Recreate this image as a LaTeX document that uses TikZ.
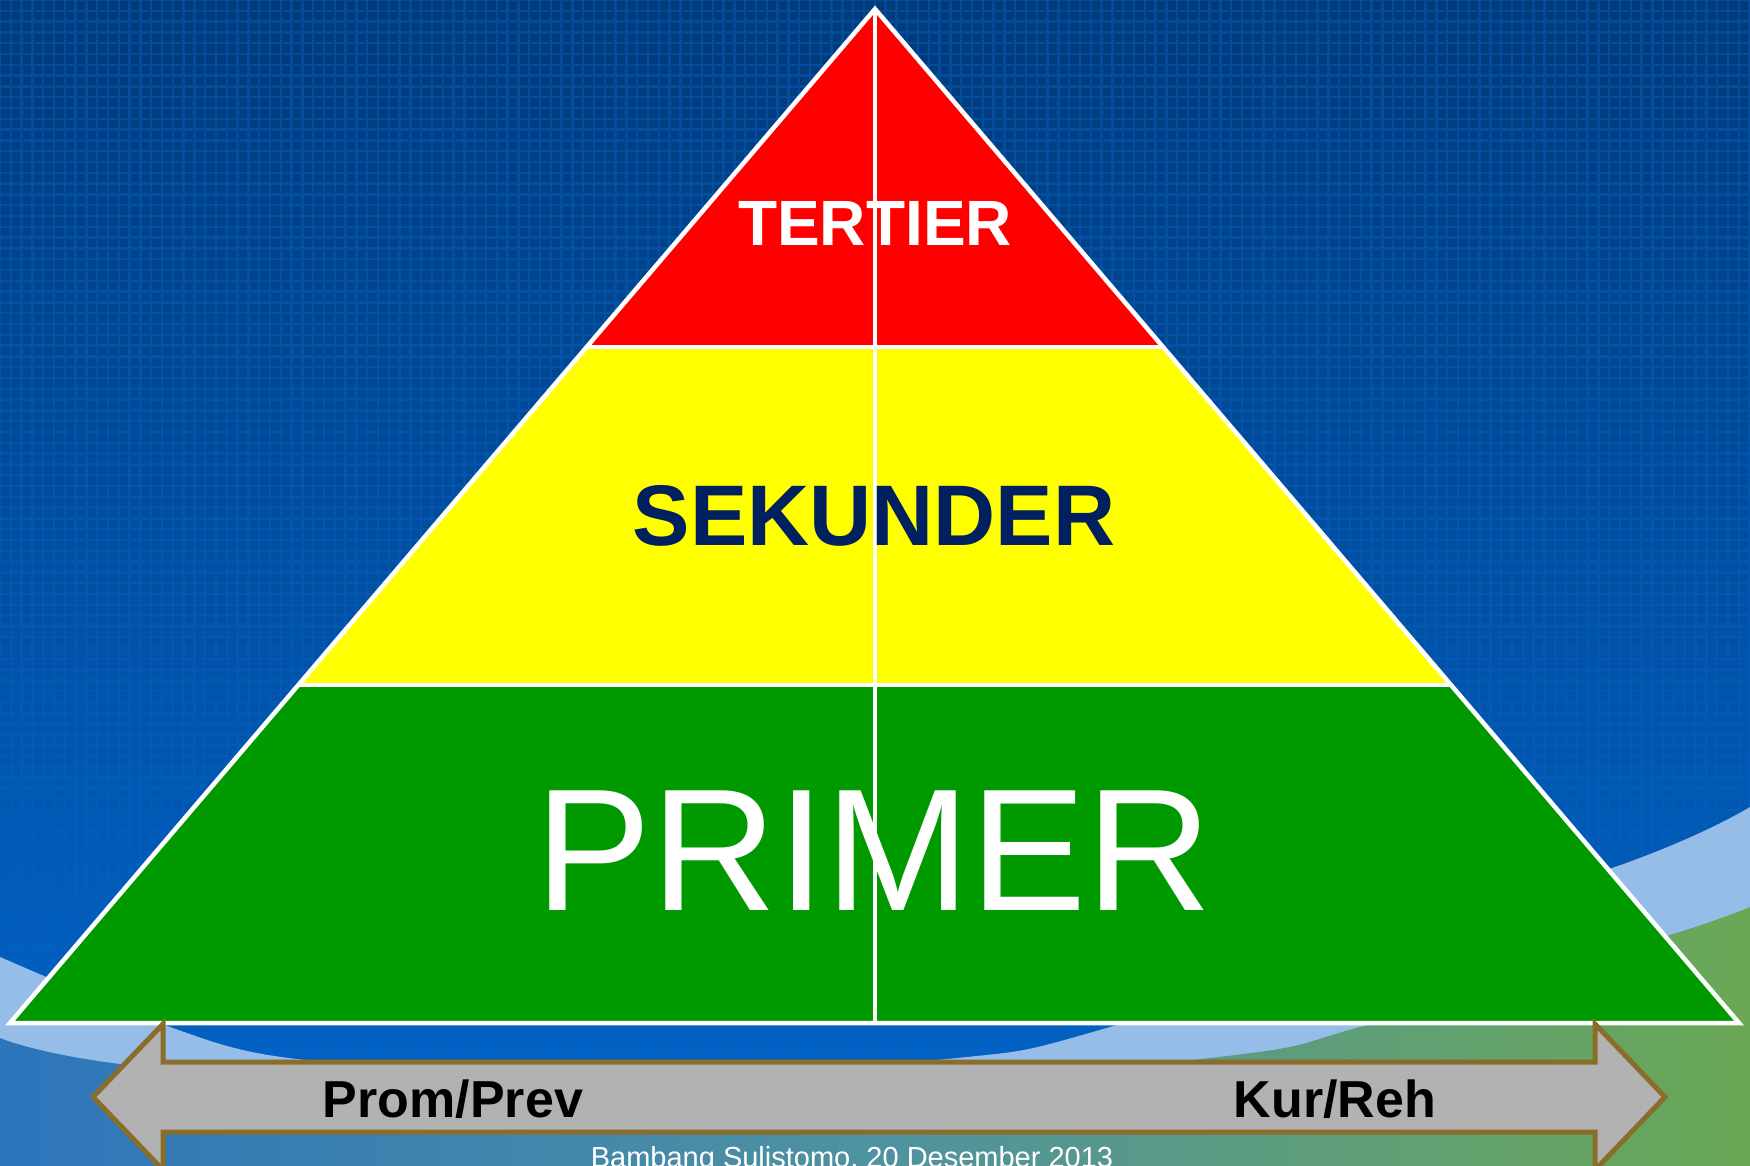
\documentclass[tikz,border=0pt]{standalone}
\usepackage{fontspec}
\setmainfont{Liberation Sans}
\usetikzlibrary{calc}

\definecolor{skytop}{HTML}{003A79}
\definecolor{skybottom}{HTML}{0066CC}
\definecolor{gridblue}{HTML}{0A5EC0}
\definecolor{swoosh}{HTML}{95BDE8}
\definecolor{groundL}{HTML}{1B66CA}
\definecolor{groundM}{HTML}{4F92A0}
\definecolor{groundR}{HTML}{70AD47}
\definecolor{tertier}{HTML}{FF0000}
\definecolor{sekunder}{HTML}{FFFF00}
\definecolor{primer}{HTML}{009900}
\definecolor{navy}{HTML}{002060}
\definecolor{arrowfill}{HTML}{B2B2B2}
\definecolor{arrowline}{HTML}{8B6D2B}

\pgfdeclarehorizontalshading{ground}{100bp}{color(0bp)=(groundL); color(12bp)=(groundL);
  color(50bp)=(groundM); color(80bp)=(groundR); color(100bp)=(groundR)}

\begin{document}
\begin{tikzpicture}[x=1pt, y=-1pt,
  tierline/.style={draw=white, line width=4.5},
  tierlabel/.style={anchor=base, inner sep=0pt},
  bannertext/.style={anchor=base, inner sep=0pt, font=\bfseries\fontsize{52}{60}\selectfont}]

  \useasboundingbox (0,0) rectangle (1750,1166);
  \clip (0,0) rectangle (1750,1166);

  % sky
  \shade[top color=skytop, bottom color=skybottom] (0,0) rectangle (1750,1166);
  \path[draw=gridblue, draw opacity=0.45, line width=2.4]
    foreach \gx in {0,10.8,...,1750} {(\gx,0) -- (\gx,1100)}
    foreach \gy in {0,10.8,...,1100} {(0,\gy) -- (1750,\gy)};

  % light swoosh, then the hill
  \fill[swoosh] plot[smooth] coordinates {(0,957) (167,1026) (297,1059) (620,1078)
    (957,1058) (1110,1027) (1612,868) (1750,807)} -- (1750,1166) -- (0,1166) -- cycle;
  \shade[shading=ground] plot[smooth] coordinates {(0,1038) (120,1064) (600,1112)
    (1210,1058) (1360,1027) (1670,935) (1750,907)} -- (1750,1166) -- (0,1166) -- cycle;

  % pyramid
  \coordinate (apex) at (875,9);
  \coordinate (baseL) at (10,1023);
  \coordinate (baseR) at (1739,1023);
  \coordinate (midL) at ($(apex)!1/3!(baseL)$);
  \coordinate (midR) at ($(apex)!1/3!(baseR)$);
  \coordinate (lowL) at ($(apex)!2/3!(baseL)$);
  \coordinate (lowR) at ($(apex)!2/3!(baseR)$);
  \coordinate (baseM) at (apex |- baseL);

  \fill[tertier] (apex) -- (midR) -- (midL) -- cycle;
  \fill[sekunder] (midL) -- (midR) -- (lowR) -- (lowL) -- cycle;
  \fill[primer] (lowL) -- (lowR) -- (baseR) -- (baseL) -- cycle;

  \draw[tierline] (apex) -- (baseR) -- (baseL) -- cycle;
  \draw[tierline] (midL) -- (midR);
  \draw[tierline] (lowL) -- (lowR);
  \draw[tierline] (apex) -- (baseM);

  \node[tierlabel, text=white, font=\bfseries\fontsize{64}{70}\selectfont] (tertiertext) at (875,246) {TERTIER};
  \node[tierlabel, text=navy, font=\bfseries\fontsize{86}{90}\selectfont] (sekundertext) at (874,545) {SEKUNDER};
  \node[tierlabel, text=white, font=\fontsize{174}{180}\selectfont] (primertext) at (874,910) {PRIMER};

  % double arrow under the base
  \draw[fill=arrowfill, draw=arrowline, line width=5]
    (93,1097) -- (163,1024) -- (163,1062) -- (1595,1062) -- (1595,1024) -- (1665,1097)
    -- (1595,1170) -- (1595,1132) -- (163,1132) -- (163,1170) -- cycle;
  \node[bannertext] (prom) at (453,1117) {Prom/Prev};
  \node[bannertext] (kur) at (1335,1117) {Kur/Reh};

  % footer
  \node[anchor=base, inner sep=0pt, text=white, font=\fontsize{29}{32}\selectfont] (footer)
    at (852,1167) {Bambang Sulistomo, 20 Desember 2013};
\end{tikzpicture}
\end{document}
